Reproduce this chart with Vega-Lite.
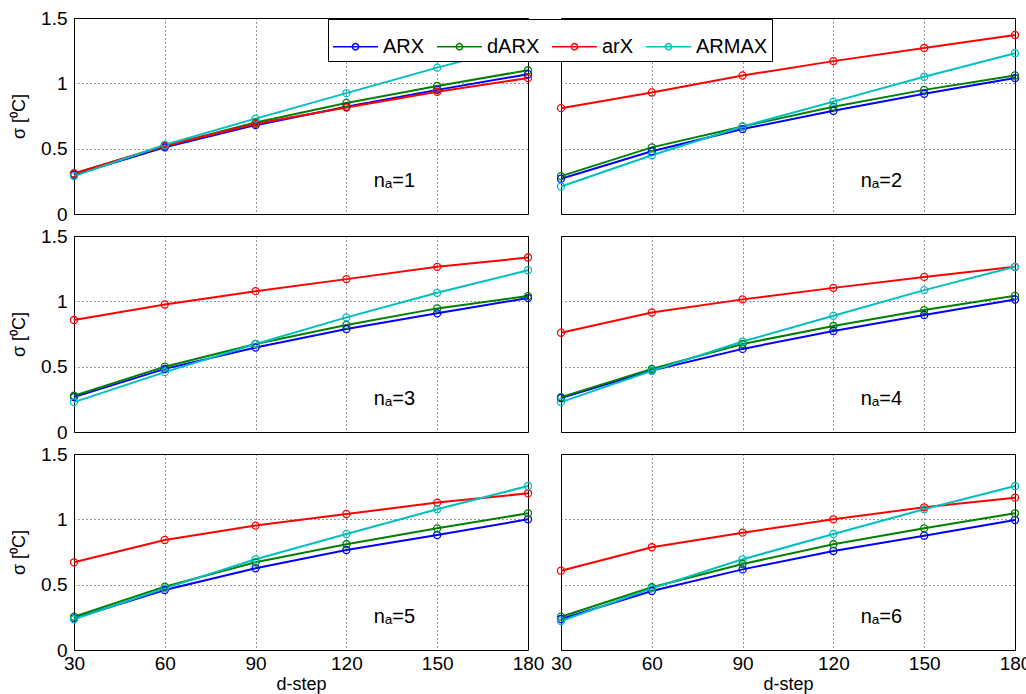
{
  "$schema": "https://vega.github.io/schema/vega-lite/v6.json",
  "padding": {"left": 10, "top": 8, "right": 0, "bottom": 0},
  "background": "white",
  "data": {"values": [
    {"panel":"nₐ=1","series":"ARX","d":30,"s":0.30},{"panel":"nₐ=1","series":"ARX","d":60,"s":0.51},{"panel":"nₐ=1","series":"ARX","d":90,"s":0.68},{"panel":"nₐ=1","series":"ARX","d":120,"s":0.82},{"panel":"nₐ=1","series":"ARX","d":150,"s":0.95},{"panel":"nₐ=1","series":"ARX","d":180,"s":1.07},
    {"panel":"nₐ=1","series":"dARX","d":30,"s":0.31},{"panel":"nₐ=1","series":"dARX","d":60,"s":0.52},{"panel":"nₐ=1","series":"dARX","d":90,"s":0.70},{"panel":"nₐ=1","series":"dARX","d":120,"s":0.85},{"panel":"nₐ=1","series":"dARX","d":150,"s":0.98},{"panel":"nₐ=1","series":"dARX","d":180,"s":1.10},
    {"panel":"nₐ=1","series":"arX","d":30,"s":0.31},{"panel":"nₐ=1","series":"arX","d":60,"s":0.52},{"panel":"nₐ=1","series":"arX","d":90,"s":0.69},{"panel":"nₐ=1","series":"arX","d":120,"s":0.815},{"panel":"nₐ=1","series":"arX","d":150,"s":0.935},{"panel":"nₐ=1","series":"arX","d":180,"s":1.04},
    {"panel":"nₐ=1","series":"ARMAX","d":30,"s":0.29},{"panel":"nₐ=1","series":"ARMAX","d":60,"s":0.53},{"panel":"nₐ=1","series":"ARMAX","d":90,"s":0.73},{"panel":"nₐ=1","series":"ARMAX","d":120,"s":0.925},{"panel":"nₐ=1","series":"ARMAX","d":150,"s":1.12},{"panel":"nₐ=1","series":"ARMAX","d":180,"s":1.30},

    {"panel":"nₐ=2","series":"ARX","d":30,"s":0.27},{"panel":"nₐ=2","series":"ARX","d":60,"s":0.48},{"panel":"nₐ=2","series":"ARX","d":90,"s":0.65},{"panel":"nₐ=2","series":"ARX","d":120,"s":0.79},{"panel":"nₐ=2","series":"ARX","d":150,"s":0.92},{"panel":"nₐ=2","series":"ARX","d":180,"s":1.04},
    {"panel":"nₐ=2","series":"dARX","d":30,"s":0.29},{"panel":"nₐ=2","series":"dARX","d":60,"s":0.51},{"panel":"nₐ=2","series":"dARX","d":90,"s":0.67},{"panel":"nₐ=2","series":"dARX","d":120,"s":0.82},{"panel":"nₐ=2","series":"dARX","d":150,"s":0.95},{"panel":"nₐ=2","series":"dARX","d":180,"s":1.06},
    {"panel":"nₐ=2","series":"arX","d":30,"s":0.81},{"panel":"nₐ=2","series":"arX","d":60,"s":0.93},{"panel":"nₐ=2","series":"arX","d":90,"s":1.06},{"panel":"nₐ=2","series":"arX","d":120,"s":1.17},{"panel":"nₐ=2","series":"arX","d":150,"s":1.27},{"panel":"nₐ=2","series":"arX","d":180,"s":1.37},
    {"panel":"nₐ=2","series":"ARMAX","d":30,"s":0.21},{"panel":"nₐ=2","series":"ARMAX","d":60,"s":0.45},{"panel":"nₐ=2","series":"ARMAX","d":90,"s":0.67},{"panel":"nₐ=2","series":"ARMAX","d":120,"s":0.86},{"panel":"nₐ=2","series":"ARMAX","d":150,"s":1.05},{"panel":"nₐ=2","series":"ARMAX","d":180,"s":1.23},

    {"panel":"nₐ=3","series":"ARX","d":30,"s":0.267},{"panel":"nₐ=3","series":"ARX","d":60,"s":0.483},{"panel":"nₐ=3","series":"ARX","d":90,"s":0.646},{"panel":"nₐ=3","series":"ARX","d":120,"s":0.788},{"panel":"nₐ=3","series":"ARX","d":150,"s":0.908},{"panel":"nₐ=3","series":"ARX","d":180,"s":1.025},
    {"panel":"nₐ=3","series":"dARX","d":30,"s":0.277},{"panel":"nₐ=3","series":"dARX","d":60,"s":0.50},{"panel":"nₐ=3","series":"dARX","d":90,"s":0.674},{"panel":"nₐ=3","series":"dARX","d":120,"s":0.819},{"panel":"nₐ=3","series":"dARX","d":150,"s":0.946},{"panel":"nₐ=3","series":"dARX","d":180,"s":1.04},
    {"panel":"nₐ=3","series":"arX","d":30,"s":0.857},{"panel":"nₐ=3","series":"arX","d":60,"s":0.976},{"panel":"nₐ=3","series":"arX","d":90,"s":1.078},{"panel":"nₐ=3","series":"arX","d":120,"s":1.17},{"panel":"nₐ=3","series":"arX","d":150,"s":1.264},{"panel":"nₐ=3","series":"arX","d":180,"s":1.335},
    {"panel":"nₐ=3","series":"ARMAX","d":30,"s":0.229},{"panel":"nₐ=3","series":"ARMAX","d":60,"s":0.458},{"panel":"nₐ=3","series":"ARMAX","d":90,"s":0.674},{"panel":"nₐ=3","series":"ARMAX","d":120,"s":0.877},{"panel":"nₐ=3","series":"ARMAX","d":150,"s":1.065},{"panel":"nₐ=3","series":"ARMAX","d":180,"s":1.238},

    {"panel":"nₐ=4","series":"ARX","d":30,"s":0.26},{"panel":"nₐ=4","series":"ARX","d":60,"s":0.47},{"panel":"nₐ=4","series":"ARX","d":90,"s":0.636},{"panel":"nₐ=4","series":"ARX","d":120,"s":0.773},{"panel":"nₐ=4","series":"ARX","d":150,"s":0.895},{"panel":"nₐ=4","series":"ARX","d":180,"s":1.014},
    {"panel":"nₐ=4","series":"dARX","d":30,"s":0.267},{"panel":"nₐ=4","series":"dARX","d":60,"s":0.483},{"panel":"nₐ=4","series":"dARX","d":90,"s":0.674},{"panel":"nₐ=4","series":"dARX","d":120,"s":0.811},{"panel":"nₐ=4","series":"dARX","d":150,"s":0.933},{"panel":"nₐ=4","series":"dARX","d":180,"s":1.042},
    {"panel":"nₐ=4","series":"arX","d":30,"s":0.76},{"panel":"nₐ=4","series":"arX","d":60,"s":0.915},{"panel":"nₐ=4","series":"arX","d":90,"s":1.015},{"panel":"nₐ=4","series":"arX","d":120,"s":1.103},{"panel":"nₐ=4","series":"arX","d":150,"s":1.187},{"panel":"nₐ=4","series":"arX","d":180,"s":1.264},
    {"panel":"nₐ=4","series":"ARMAX","d":30,"s":0.229},{"panel":"nₐ=4","series":"ARMAX","d":60,"s":0.468},{"panel":"nₐ=4","series":"ARMAX","d":90,"s":0.692},{"panel":"nₐ=4","series":"ARMAX","d":120,"s":0.89},{"panel":"nₐ=4","series":"ARMAX","d":150,"s":1.086},{"panel":"nₐ=4","series":"ARMAX","d":180,"s":1.264},

    {"panel":"nₐ=5","series":"ARX","d":30,"s":0.242},{"panel":"nₐ=5","series":"ARX","d":60,"s":0.459},{"panel":"nₐ=5","series":"ARX","d":90,"s":0.625},{"panel":"nₐ=5","series":"ARX","d":120,"s":0.765},{"panel":"nₐ=5","series":"ARX","d":150,"s":0.88},{"panel":"nₐ=5","series":"ARX","d":180,"s":1.0},
    {"panel":"nₐ=5","series":"dARX","d":30,"s":0.255},{"panel":"nₐ=5","series":"dARX","d":60,"s":0.485},{"panel":"nₐ=5","series":"dARX","d":90,"s":0.671},{"panel":"nₐ=5","series":"dARX","d":120,"s":0.809},{"panel":"nₐ=5","series":"dARX","d":150,"s":0.931},{"panel":"nₐ=5","series":"dARX","d":180,"s":1.046},
    {"panel":"nₐ=5","series":"arX","d":30,"s":0.671},{"panel":"nₐ=5","series":"arX","d":60,"s":0.842},{"panel":"nₐ=5","series":"arX","d":90,"s":0.952},{"panel":"nₐ=5","series":"arX","d":120,"s":1.041},{"panel":"nₐ=5","series":"arX","d":150,"s":1.128},{"panel":"nₐ=5","series":"arX","d":180,"s":1.199},
    {"panel":"nₐ=5","series":"ARMAX","d":30,"s":0.235},{"panel":"nₐ=5","series":"ARMAX","d":60,"s":0.472},{"panel":"nₐ=5","series":"ARMAX","d":90,"s":0.694},{"panel":"nₐ=5","series":"ARMAX","d":120,"s":0.888},{"panel":"nₐ=5","series":"ARMAX","d":150,"s":1.077},{"panel":"nₐ=5","series":"ARMAX","d":180,"s":1.255},

    {"panel":"nₐ=6","series":"ARX","d":30,"s":0.237},{"panel":"nₐ=6","series":"ARX","d":60,"s":0.452},{"panel":"nₐ=6","series":"ARX","d":90,"s":0.617},{"panel":"nₐ=6","series":"ARX","d":120,"s":0.758},{"panel":"nₐ=6","series":"ARX","d":150,"s":0.875},{"panel":"nₐ=6","series":"ARX","d":180,"s":0.995},
    {"panel":"nₐ=6","series":"dARX","d":30,"s":0.255},{"panel":"nₐ=6","series":"dARX","d":60,"s":0.48},{"panel":"nₐ=6","series":"dARX","d":90,"s":0.658},{"panel":"nₐ=6","series":"dARX","d":120,"s":0.809},{"panel":"nₐ=6","series":"dARX","d":150,"s":0.931},{"panel":"nₐ=6","series":"dARX","d":180,"s":1.046},
    {"panel":"nₐ=6","series":"arX","d":30,"s":0.607},{"panel":"nₐ=6","series":"arX","d":60,"s":0.786},{"panel":"nₐ=6","series":"arX","d":90,"s":0.898},{"panel":"nₐ=6","series":"arX","d":120,"s":1.0},{"panel":"nₐ=6","series":"arX","d":150,"s":1.092},{"panel":"nₐ=6","series":"arX","d":180,"s":1.166},
    {"panel":"nₐ=6","series":"ARMAX","d":30,"s":0.222},{"panel":"nₐ=6","series":"ARMAX","d":60,"s":0.472},{"panel":"nₐ=6","series":"ARMAX","d":90,"s":0.694},{"panel":"nₐ=6","series":"ARMAX","d":120,"s":0.888},{"panel":"nₐ=6","series":"ARMAX","d":150,"s":1.077},{"panel":"nₐ=6","series":"ARMAX","d":180,"s":1.255}
  ]},
  "columns": 2,
  "spacing": {"row": 22, "column": 33},
  "bounds": "flush",
  "concat": [
    {
      "width": 454, "height": 196,
      "transform": [{"filter": "datum.panel == 'nₐ=1'"}],
      "layer": [
        {"mark": {"type": "line", "strokeWidth": 2, "point": {"filled": false, "size": 50, "strokeWidth": 1.3}},
         "encoding": {
           "x": {"field": "d", "type": "quantitative", "title": null, "scale": {"domain": [30, 180], "nice": false, "zero": false}, "axis": {"values": [30, 60, 90, 120, 150, 180], "labels": false}},
           "y": {"field": "s", "type": "quantitative", "title": "σ [⁰C]", "scale": {"domain": [0, 1.5], "nice": false}, "axis": {"values": [0, 0.5, 1, 1.5], "format": "~g"}},
           "color": {"field": "series", "type": "nominal", "scale": {"domain": ["ARX", "dARX", "arX", "ARMAX"], "range": ["#0000ff", "#008000", "#ff0000", "#00bfbf"]},
                     "legend": {"title": null, "orient": "none", "legendX": 254, "legendY": 1, "direction": "horizontal"}},
           "order": {"field": "d", "type": "quantitative"}}},
        {"transform": [{"filter": "datum.series == 'ARX' && datum.d == 30"}],
         "mark": {"type": "text", "align": "left", "baseline": "alphabetic", "fontSize": 20, "color": "black"},
         "encoding": {"x": {"datum": 129}, "y": {"datum": 0.21}, "text": {"field": "panel"}}}
      ]
    },
    {
      "width": 454, "height": 196,
      "transform": [{"filter": "datum.panel == 'nₐ=2'"}],
      "layer": [
        {"mark": {"type": "line", "strokeWidth": 2, "point": {"filled": false, "size": 50, "strokeWidth": 1.3}},
         "encoding": {
           "x": {"field": "d", "type": "quantitative", "title": null, "scale": {"domain": [30, 180], "nice": false, "zero": false}, "axis": {"values": [30, 60, 90, 120, 150, 180], "labels": false}},
           "y": {"field": "s", "type": "quantitative", "title": null, "scale": {"domain": [0, 1.5], "nice": false}, "axis": {"values": [0, 0.5, 1, 1.5], "labels": false}},
           "color": {"field": "series", "type": "nominal"},
           "order": {"field": "d", "type": "quantitative"}}},
        {"transform": [{"filter": "datum.series == 'ARX' && datum.d == 30"}],
         "mark": {"type": "text", "align": "left", "baseline": "alphabetic", "fontSize": 20, "color": "black"},
         "encoding": {"x": {"datum": 129}, "y": {"datum": 0.21}, "text": {"field": "panel"}}}
      ]
    },
    {
      "width": 454, "height": 196,
      "transform": [{"filter": "datum.panel == 'nₐ=3'"}],
      "layer": [
        {"mark": {"type": "line", "strokeWidth": 2, "point": {"filled": false, "size": 50, "strokeWidth": 1.3}},
         "encoding": {
           "x": {"field": "d", "type": "quantitative", "title": null, "scale": {"domain": [30, 180], "nice": false, "zero": false}, "axis": {"values": [30, 60, 90, 120, 150, 180], "labels": false}},
           "y": {"field": "s", "type": "quantitative", "title": "σ [⁰C]", "scale": {"domain": [0, 1.5], "nice": false}, "axis": {"values": [0, 0.5, 1, 1.5], "format": "~g"}},
           "color": {"field": "series", "type": "nominal"},
           "order": {"field": "d", "type": "quantitative"}}},
        {"transform": [{"filter": "datum.series == 'ARX' && datum.d == 30"}],
         "mark": {"type": "text", "align": "left", "baseline": "alphabetic", "fontSize": 20, "color": "black"},
         "encoding": {"x": {"datum": 129}, "y": {"datum": 0.21}, "text": {"field": "panel"}}}
      ]
    },
    {
      "width": 454, "height": 196,
      "transform": [{"filter": "datum.panel == 'nₐ=4'"}],
      "layer": [
        {"mark": {"type": "line", "strokeWidth": 2, "point": {"filled": false, "size": 50, "strokeWidth": 1.3}},
         "encoding": {
           "x": {"field": "d", "type": "quantitative", "title": null, "scale": {"domain": [30, 180], "nice": false, "zero": false}, "axis": {"values": [30, 60, 90, 120, 150, 180], "labels": false}},
           "y": {"field": "s", "type": "quantitative", "title": null, "scale": {"domain": [0, 1.5], "nice": false}, "axis": {"values": [0, 0.5, 1, 1.5], "labels": false}},
           "color": {"field": "series", "type": "nominal"},
           "order": {"field": "d", "type": "quantitative"}}},
        {"transform": [{"filter": "datum.series == 'ARX' && datum.d == 30"}],
         "mark": {"type": "text", "align": "left", "baseline": "alphabetic", "fontSize": 20, "color": "black"},
         "encoding": {"x": {"datum": 129}, "y": {"datum": 0.21}, "text": {"field": "panel"}}}
      ]
    },
    {
      "width": 454, "height": 196,
      "transform": [{"filter": "datum.panel == 'nₐ=5'"}],
      "layer": [
        {"mark": {"type": "line", "strokeWidth": 2, "point": {"filled": false, "size": 50, "strokeWidth": 1.3}},
         "encoding": {
           "x": {"field": "d", "type": "quantitative", "title": "d-step", "scale": {"domain": [30, 180], "nice": false, "zero": false}, "axis": {"values": [30, 60, 90, 120, 150, 180]}},
           "y": {"field": "s", "type": "quantitative", "title": "σ [⁰C]", "scale": {"domain": [0, 1.5], "nice": false}, "axis": {"values": [0, 0.5, 1, 1.5], "format": "~g"}},
           "color": {"field": "series", "type": "nominal"},
           "order": {"field": "d", "type": "quantitative"}}},
        {"transform": [{"filter": "datum.series == 'ARX' && datum.d == 30"}],
         "mark": {"type": "text", "align": "left", "baseline": "alphabetic", "fontSize": 20, "color": "black"},
         "encoding": {"x": {"datum": 129}, "y": {"datum": 0.21}, "text": {"field": "panel"}}}
      ]
    },
    {
      "width": 454, "height": 196,
      "transform": [{"filter": "datum.panel == 'nₐ=6'"}],
      "layer": [
        {"mark": {"type": "line", "strokeWidth": 2, "point": {"filled": false, "size": 50, "strokeWidth": 1.3}},
         "encoding": {
           "x": {"field": "d", "type": "quantitative", "title": "d-step", "scale": {"domain": [30, 180], "nice": false, "zero": false}, "axis": {"values": [30, 60, 90, 120, 150, 180]}},
           "y": {"field": "s", "type": "quantitative", "title": null, "scale": {"domain": [0, 1.5], "nice": false}, "axis": {"values": [0, 0.5, 1, 1.5], "labels": false}},
           "color": {"field": "series", "type": "nominal"},
           "order": {"field": "d", "type": "quantitative"}}},
        {"transform": [{"filter": "datum.series == 'ARX' && datum.d == 30"}],
         "mark": {"type": "text", "align": "left", "baseline": "alphabetic", "fontSize": 20, "color": "black"},
         "encoding": {"x": {"datum": 129}, "y": {"datum": 0.21}, "text": {"field": "panel"}}}
      ]
    }
  ],
  "config": {
    "font": "Liberation Sans",
    "view": {"stroke": "black", "strokeWidth": 1},
    "axis": {
      "grid": true, "gridColor": "black", "gridDash": [1, 3], "gridOpacity": 0.8, "gridWidth": 1,
      "domain": false, "ticks": false,
      "labelFont": "Liberation Sans", "labelFontSize": 19, "labelColor": "black",
      "titleFont": "Liberation Sans", "titleFontSize": 18, "titleFontWeight": "normal", "titleColor": "black"
    },
    "axisX": {"labelPadding": 4, "titlePadding": 2, "labelFlush": false},
    "axisY": {"labelPadding": 7, "titlePadding": 12},
    "legend": {
      "strokeColor": "black", "fillColor": "white", "padding": 4,
      "symbolType": "M-1,0H1M0.14,0A0.14,0.14,0,1,1,-0.14,0A0.14,0.14,0,1,1,0.14,0",
      "symbolSize": 2025, "symbolStrokeWidth": 1.5, "symbolFillColor": "transparent",
      "labelFont": "Liberation Sans", "labelFontSize": 20, "labelColor": "black",
      "labelOffset": 4, "columnPadding": 9
    }
  }
}
